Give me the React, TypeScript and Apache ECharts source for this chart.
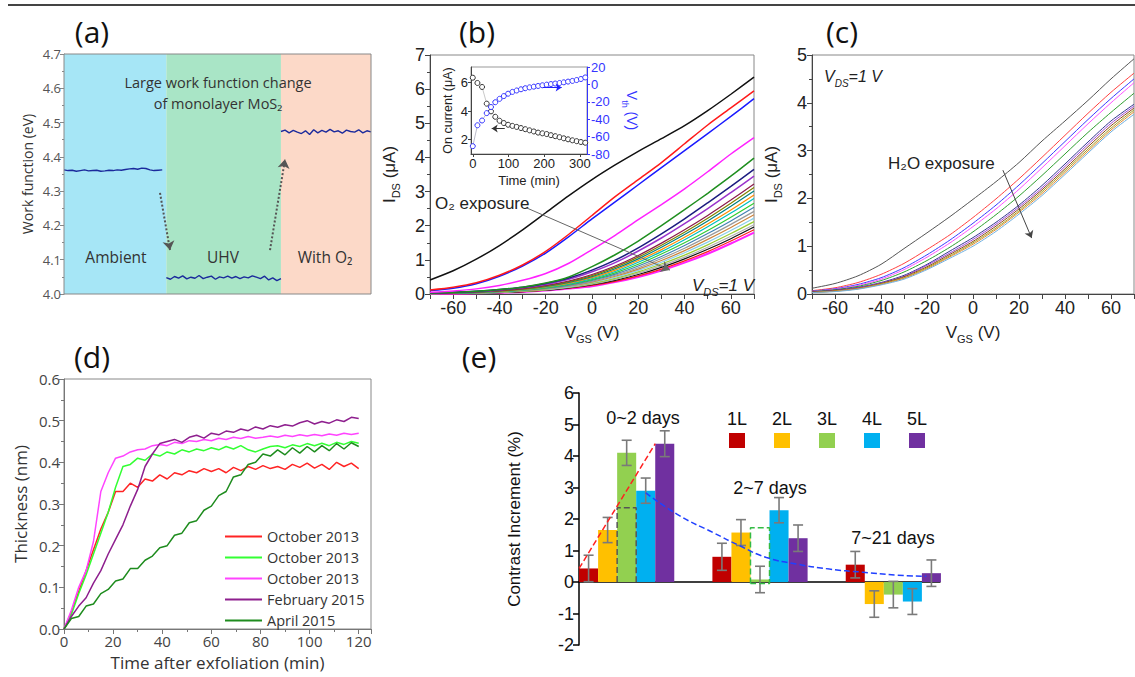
import React, { useEffect, useRef } from "react";
import * as echarts from "echarts";

const SANS = "Liberation Sans, Arial, sans-serif";
const OPEN = "Open Sans, sans-serif";

// ---------------- (a) work function ----------------
const aRegionEdges = [0, 100, 212, 300];
const aRegionColors = ["#a6e6f6", "#a9e5c6", "#fcd9c8"];
const aSampleStep = 4;
const aAmbientStart = 0;
const aAmbient = [4.362, 4.36, 4.361, 4.358, 4.36, 4.362, 4.359, 4.36, 4.361, 4.358, 4.359, 4.361, 4.36, 4.362, 4.361, 4.363, 4.365, 4.366, 4.364, 4.367, 4.366, 4.362, 4.36, 4.361, 4.362];
const aUhvStart = 100;
const aUhv = [4.048, 4.043, 4.051, 4.046, 4.053, 4.044, 4.049, 4.046, 4.054, 4.045, 4.049, 4.052, 4.043, 4.05, 4.047, 4.052, 4.046, 4.051, 4.045, 4.05, 4.047, 4.053, 4.049, 4.045, 4.052, 4.041, 4.047, 4.039, 4.045];
const aO2Start = 212;
const aO2 = [4.474, 4.478, 4.47, 4.477, 4.472, 4.468, 4.476, 4.465, 4.479, 4.47, 4.477, 4.472, 4.48, 4.473, 4.476, 4.469, 4.478, 4.474, 4.472, 4.479, 4.47, 4.476, 4.473];
const aArrowFrom = [[93.8, 4.295], [201.3, 4.128]];
const aArrowTo = [[103.6, 4.128], [216, 4.393]];

// ---------------- (b) O2 exposure ----------------
const bVgs = [-70, -60, -50, -40, -30, -20, -10, 0, 10, 20, 30, 40, 50, 60, 70];
const bBlack = [0.41, 0.68, 1.02, 1.42, 1.88, 2.38, 2.88, 3.35, 3.78, 4.18, 4.55, 4.93, 5.37, 5.85, 6.35];
const bRed = [0.12, 0.2, 0.33, 0.55, 0.85, 1.25, 1.75, 2.3, 2.85, 3.35, 3.85, 4.4, 4.95, 5.45, 5.95];
const bBlue = [0.1, 0.17, 0.3, 0.52, 0.82, 1.2, 1.68, 2.2, 2.7, 3.2, 3.7, 4.2, 4.7, 5.2, 5.72];
const bMagenta = [0.05, 0.09, 0.15, 0.25, 0.4, 0.6, 0.9, 1.3, 1.72, 2.18, 2.62, 3.08, 3.58, 4.1, 4.58];
const bGreen = [0.03, 0.05, 0.08, 0.13, 0.2, 0.32, 0.5, 0.8, 1.15, 1.55, 2.0, 2.47, 2.95, 3.45, 3.98];
const bNavy = [0.03, 0.05, 0.08, 0.13, 0.2, 0.31, 0.47, 0.7, 0.99, 1.35, 1.76, 2.2, 2.67, 3.15, 3.65];
const bPurple = [0.03, 0.05, 0.07, 0.12, 0.18, 0.28, 0.43, 0.65, 0.92, 1.26, 1.64, 2.06, 2.5, 2.97, 3.45];
const bM1 = [0.02, 0.04, 0.06, 0.1, 0.16, 0.25, 0.38, 0.57, 0.82, 1.13, 1.49, 1.88, 2.3, 2.75, 3.22];
const bM2 = [0.02, 0.04, 0.06, 0.09, 0.15, 0.24, 0.36, 0.54, 0.78, 1.08, 1.43, 1.81, 2.22, 2.66, 3.12];
const bM3 = [0.02, 0.03, 0.05, 0.09, 0.14, 0.22, 0.34, 0.51, 0.74, 1.03, 1.37, 1.74, 2.14, 2.57, 3.02];
const bM4 = [0.02, 0.03, 0.05, 0.08, 0.13, 0.21, 0.32, 0.48, 0.7, 0.98, 1.3, 1.66, 2.05, 2.46, 2.9];
const bM5 = [0.02, 0.03, 0.05, 0.08, 0.12, 0.2, 0.3, 0.45, 0.66, 0.93, 1.24, 1.59, 1.97, 2.37, 2.8];
const bM6 = [0.02, 0.03, 0.04, 0.07, 0.11, 0.18, 0.28, 0.42, 0.62, 0.87, 1.17, 1.5, 1.86, 2.25, 2.66];
const bM7 = [0.01, 0.02, 0.04, 0.07, 0.11, 0.17, 0.26, 0.4, 0.58, 0.82, 1.1, 1.42, 1.77, 2.14, 2.54];
const bM8 = [0.01, 0.02, 0.04, 0.06, 0.1, 0.16, 0.24, 0.37, 0.55, 0.77, 1.04, 1.34, 1.68, 2.04, 2.42];
const bM9 = [0.01, 0.02, 0.03, 0.06, 0.09, 0.15, 0.23, 0.35, 0.52, 0.73, 0.98, 1.27, 1.6, 1.95, 2.32];
const bM10 = [0.01, 0.02, 0.03, 0.05, 0.09, 0.14, 0.21, 0.33, 0.49, 0.69, 0.93, 1.21, 1.52, 1.86, 2.22];
const bM11 = [0.01, 0.02, 0.03, 0.05, 0.08, 0.13, 0.2, 0.31, 0.46, 0.65, 0.88, 1.14, 1.44, 1.77, 2.12];
const bM12 = [0.01, 0.02, 0.03, 0.05, 0.08, 0.12, 0.19, 0.29, 0.43, 0.61, 0.83, 1.08, 1.37, 1.69, 2.03];
const bM13 = [0.01, 0.02, 0.03, 0.04, 0.07, 0.11, 0.18, 0.27, 0.4, 0.57, 0.78, 1.03, 1.31, 1.62, 1.96];
const bM14 = [0.01, 0.01, 0.02, 0.04, 0.07, 0.11, 0.17, 0.25, 0.37, 0.53, 0.73, 0.97, 1.24, 1.55, 1.88];
const bM15 = [0.01, 0.01, 0.02, 0.04, 0.06, 0.1, 0.16, 0.23, 0.35, 0.5, 0.69, 0.92, 1.18, 1.48, 1.8];
const bCurves = [bBlack, bRed, bBlue, bMagenta, bGreen, bNavy, bPurple, bM1, bM2, bM3, bM4, bM5, bM6, bM7, bM8, bM9, bM10, bM11, bM12, bM13, bM14, bM15];
const bColors = ["#111111", "#ff1a1a", "#1a1aff", "#ff22ff", "#1f8f1f", "#1c1c80", "#9933cc", "#8b1a4a", "#808000", "#008080", "#ff8c00", "#00bfbf", "#33cc33", "#4682b4", "#9a9a9a", "#cd853f", "#87ceeb", "#9acd32", "#b0b0b0", "#111111", "#ff1a1a", "#ff22ff"];
const bArrow = [[-28.2, 2.52], [33.7, 0.7]];

const bInsetTime = [0, 13, 26, 39, 51, 63, 75, 87, 99, 111, 123, 135, 147, 159, 171, 183, 195, 207, 219, 231, 243, 255, 267, 279, 291, 303, 315];
const bInsetOnCurrent = [6.35, 5.98, 5.7, 4.53, 3.99, 3.61, 3.33, 3.17, 3.05, 2.97, 2.9, 2.82, 2.74, 2.66, 2.58, 2.5, 2.45, 2.4, 2.32, 2.25, 2.18, 2.1, 2.03, 1.96, 1.9, 1.84, 1.79];
const bInsetVth = [-71, -47, -41.5, -33, -26, -20.5, -16.6, -13.4, -10.7, -8.6, -7, -5.6, -4.4, -3.4, -2.6, -1.8, -1.0, -0.3, 0.4, 1.0, 1.6, 2.4, 3.2, 4.0, 5.0, 6.2, 8.0];
const bInsetArrowOn = [[89.6, 2.79], [53, 2.79]];
const bInsetArrowVth = [[196, -3.5], [249, -3.5]];

// ---------------- (c) H2O exposure ----------------
const cVgs = [-70, -60, -50, -40, -30, -20, -10, 0, 10, 20, 30, 40, 50, 60, 70];
const cC1 = [0.12, 0.22, 0.38, 0.62, 0.95, 1.28, 1.62, 1.98, 2.35, 2.75, 3.2, 3.62, 4.05, 4.5, 4.92];
const cC2 = [0.07, 0.13, 0.24, 0.41, 0.64, 0.93, 1.24, 1.6, 1.99, 2.41, 2.86, 3.32, 3.78, 4.22, 4.62];
const cC3 = [0.06, 0.11, 0.2, 0.34, 0.55, 0.82, 1.13, 1.48, 1.86, 2.28, 2.73, 3.19, 3.65, 4.09, 4.5];
const cC4 = [0.05, 0.1, 0.18, 0.31, 0.51, 0.77, 1.07, 1.41, 1.78, 2.19, 2.64, 3.1, 3.56, 4.0, 4.42];
const cC5 = [0.05, 0.09, 0.16, 0.28, 0.46, 0.7, 0.98, 1.3, 1.66, 2.05, 2.48, 2.93, 3.38, 3.8, 4.2];
const cC6 = [0.04, 0.08, 0.14, 0.24, 0.39, 0.62, 0.9, 1.18, 1.5, 1.86, 2.27, 2.72, 3.18, 3.62, 3.97];
const cC7 = [0.04, 0.07, 0.13, 0.23, 0.37, 0.6, 0.86, 1.14, 1.46, 1.82, 2.22, 2.67, 3.13, 3.57, 3.93];
const cC8 = [0.04, 0.07, 0.12, 0.22, 0.36, 0.57, 0.83, 1.1, 1.42, 1.78, 2.18, 2.62, 3.08, 3.52, 3.89];
const cC9 = [0.03, 0.06, 0.11, 0.21, 0.34, 0.55, 0.8, 1.07, 1.38, 1.74, 2.14, 2.58, 3.03, 3.47, 3.85];
const cC10 = [0.03, 0.06, 0.11, 0.2, 0.33, 0.53, 0.78, 1.04, 1.35, 1.71, 2.1, 2.54, 2.99, 3.43, 3.81];
const cC11 = [0.03, 0.05, 0.1, 0.19, 0.31, 0.51, 0.75, 1.0, 1.31, 1.67, 2.06, 2.5, 2.95, 3.39, 3.76];
const cCurves = [cC1, cC2, cC3, cC4, cC5, cC6, cC7, cC8, cC9, cC10, cC11];
const cColors = ["#555555", "#ff4040", "#3a3aff", "#ff50ff", "#2e9e2e", "#34348f", "#9a48d8", "#8b4513", "#a0a020", "#e08a30", "#70b0e0"];
const cArrow = [[13, 2.59], [25.5, 1.17]];

// ---------------- (d) thickness ----------------
const dTimeStep = 3;
const dRed = [0, 0.04, 0.09, 0.14, 0.19, 0.24, 0.28, 0.33, 0.33, 0.35, 0.34, 0.36, 0.355, 0.37, 0.36, 0.375, 0.37, 0.38, 0.375, 0.385, 0.378, 0.385, 0.375, 0.388, 0.38, 0.39, 0.383, 0.392, 0.385, 0.39, 0.383, 0.395, 0.388, 0.398, 0.386, 0.395, 0.383, 0.4, 0.39, 0.398, 0.385];
const dGreen = [0, 0.035, 0.085, 0.13, 0.18, 0.23, 0.28, 0.34, 0.39, 0.395, 0.41, 0.405, 0.42, 0.415, 0.425, 0.42, 0.43, 0.425, 0.432, 0.428, 0.435, 0.43, 0.438, 0.432, 0.44, 0.43, 0.425, 0.432, 0.438, 0.44, 0.435, 0.442, 0.438, 0.445, 0.44, 0.446, 0.44, 0.448, 0.443, 0.45, 0.446];
const dMagenta = [0, 0.045, 0.1, 0.14, 0.21, 0.33, 0.375, 0.41, 0.415, 0.425, 0.43, 0.432, 0.44, 0.443, 0.44, 0.448, 0.445, 0.452, 0.45, 0.455, 0.452, 0.458, 0.455, 0.46, 0.457, 0.462, 0.458, 0.46, 0.463, 0.46, 0.465, 0.462, 0.466, 0.463, 0.467, 0.464, 0.468, 0.465, 0.47, 0.467, 0.47];
const dPurple = [0, 0.03, 0.055, 0.075, 0.11, 0.14, 0.18, 0.215, 0.25, 0.295, 0.335, 0.39, 0.42, 0.445, 0.45, 0.455, 0.448, 0.46, 0.465, 0.458, 0.47, 0.466, 0.475, 0.472, 0.48, 0.476, 0.485, 0.48, 0.488, 0.484, 0.49, 0.487, 0.495, 0.5, 0.492, 0.498, 0.494, 0.502, 0.498, 0.508, 0.505];
const dDarkGreen = [0, 0.025, 0.03, 0.055, 0.06, 0.085, 0.095, 0.115, 0.12, 0.145, 0.145, 0.165, 0.175, 0.195, 0.2, 0.225, 0.23, 0.255, 0.26, 0.285, 0.295, 0.32, 0.33, 0.365, 0.37, 0.395, 0.4, 0.42, 0.415, 0.43, 0.418, 0.435, 0.422, 0.438, 0.425, 0.44, 0.428, 0.445, 0.432, 0.447, 0.438];
const dSeries = [dRed, dGreen, dMagenta, dPurple, dDarkGreen];
const dLegend = ["October 2013", "October 2013", "October 2013", "February 2015", "April 2015"];
const dColors = ["#ff2424", "#33ff33", "#ff44ff", "#8e1f8e", "#1e8c1e"];

// ---------------- (e) contrast increment ----------------
const ePeriods = ["0~2 days", "2~7 days", "7~21 days"];
const eLayers = ["1L", "2L", "3L", "4L", "5L"];
const eColors = ["#c00000", "#ffc000", "#92d050", "#00b0f0", "#7030a0"];
const e1L = [0.43, 0.8, 0.55];
const e2L = [1.65, 1.57, -0.7];
const e3L = [4.1, 0.08, -0.4];
const e4L = [2.9, 2.28, -0.62];
const e5L = [4.39, 1.39, 0.28];
const eValues = [e1L, e2L, e3L, e4L, e5L];
const e1LErr = [0.42, 0.43, 0.42];
const e2LErr = [0.4, 0.41, 0.42];
const e3LErr = [0.4, 0.42, 0.42];
const e4LErr = [0.4, 0.4, 0.41];
const e5LErr = [0.41, 0.42, 0.42];
const eErrors = [e1LErr, e2LErr, e3LErr, e4LErr, e5LErr];
const eTrendX = [0.643, 0.899, 1.148, 1.348, 1.548, 1.773, 2.022, 2.272, 2.522, 2.747];
const eTrendY = [2.83, 2.1, 1.57, 1.15, 0.78, 0.57, 0.41, 0.31, 0.22, 0.18];
const eBox1 = [0, 2.36];
const eBox2 = [-0.05, 1.72];
const E_GAP = 0.286;

function buildOption() {
  const stepPairs = (start: number, step: number, ys: number[]) => ys.map((y, i) => [start + i * step, y]);
  const pairs = (xs: number[], ys: number[]) => ys.map((y, i) => [xs[i], y]);
  const layerLeft = (g: number, i: number) => g + E_GAP / 2 + (i * (1 - E_GAP)) / eLayers.length;

  const subRich = (size: number, color: string, italic = false) => ({
    m: { fontSize: size, lineHeight: 24, fontFamily: SANS, color, fontStyle: italic ? "italic" : "normal" },
    s: { fontSize: Math.round(size * 0.65), lineHeight: 11, verticalAlign: "bottom", fontFamily: SANS, color, fontStyle: italic ? "italic" : "normal" },
  });

  const gridBase = { outerBoundsMode: "none", containLabel: false } as any;
  const grids = [
    { ...gridBase, left: 64, top: 54, width: 307, height: 240 },
    { ...gridBase, left: 430, top: 55, width: 324, height: 239, show: true, borderColor: "#888", borderWidth: 1 },
    { ...gridBase, left: 471, top: 67, width: 116, height: 87, show: true, borderColor: "#999", borderWidth: 1, backgroundColor: "#fff" },
    { ...gridBase, left: 812, top: 55, width: 322, height: 239, show: true, borderColor: "#888", borderWidth: 1 },
    { ...gridBase, left: 64, top: 379, width: 307, height: 250, show: true, borderColor: "#888", borderWidth: 1 },
    { ...gridBase, left: 579, top: 393, width: 361, height: 252 },
    { ...gridBase, left: 560, top: 393, width: 400, height: 252 },
  ];

  const bcAxisLabel = { fontSize: 18, color: "#222", fontFamily: SANS, margin: 5 };
  const darkLine = { show: true, onZero: false, lineStyle: { color: "#444", width: 1 } };
  const outTick = { show: true, length: 5, inside: false, lineStyle: { color: "#444" } };
  const minor = { show: true, splitNumber: 2, length: 3, lineStyle: { color: "#444" } };
  const no = { show: false };

  const xAxes: any[] = [
    { gridIndex: 0, type: "value", min: 0, max: 300, show: false },
    {
      gridIndex: 1, type: "value", min: -70, max: 70, interval: 10,
      axisLine: darkLine, axisTick: outTick, splitLine: no,
      axisLabel: { ...bcAxisLabel, formatter: (v: number) => (v % 20 === 0 ? String(v) : "") },
      name: "{m|V}{s|GS}{m| (V)}", nameLocation: "middle", nameGap: 26, nameMoveOverlap: false,
      nameTextStyle: { rich: subRich(17, "#222") },
    },
    {
      gridIndex: 2, type: "value", min: -5, max: 320,
      axisLine: { show: true, onZero: false, lineStyle: { color: "#444" } },
      axisTick: { show: true, length: 3, customValues: [0, 100, 200, 300], lineStyle: { color: "#444" } },
      axisLabel: { fontSize: 13, color: "#222", fontFamily: SANS, margin: 3, customValues: [0, 100, 200, 300] },
      splitLine: no,
      name: "Time (min)", nameLocation: "middle", nameGap: 20, nameMoveOverlap: false,
      nameTextStyle: { fontSize: 13, color: "#222", fontFamily: SANS },
    },
    {
      gridIndex: 3, type: "value", min: -70, max: 70, interval: 10,
      axisLine: darkLine, axisTick: outTick, splitLine: no,
      axisLabel: { ...bcAxisLabel, formatter: (v: number) => (v % 20 === 0 ? String(v) : "") },
      name: "{m|V}{s|GS}{m| (V)}", nameLocation: "middle", nameGap: 26, nameMoveOverlap: false,
      nameTextStyle: { rich: subRich(17, "#222") },
    },
    {
      gridIndex: 4, type: "value", min: 0, max: 125, interval: 20,
      axisLine: { show: true, onZero: false, lineStyle: { color: "#777" } },
      axisTick: { show: true, length: 5, lineStyle: { color: "#777" } },
      minorTick: { show: true, splitNumber: 2, length: 3, lineStyle: { color: "#777" } },
      splitLine: no,
      axisLabel: { fontSize: 15, color: "#444", fontFamily: OPEN, margin: 4, formatter: (v: number) => (v % 20 === 0 ? String(v) : "") },
      name: "Time after exfoliation (min)", nameLocation: "middle", nameGap: 25, nameMoveOverlap: false,
      nameTextStyle: { fontSize: 17, color: "#333", fontFamily: OPEN },
    },
    {
      gridIndex: 5, type: "value", min: 0, max: 1,
      axisLine: { show: true, onZero: true, lineStyle: { color: "#000", width: 1.5 } },
      axisTick: no, axisLabel: no, splitLine: no,
    },
    { gridIndex: 6, type: "category", data: ePeriods, show: false },
    { gridIndex: 6, type: "value", min: 0, max: 3, show: false },
  ];

  const yAxes: any[] = [
    {
      gridIndex: 0, type: "value", min: 4.0, max: 4.7, interval: 0.1,
      axisLine: { show: true, onZero: false, lineStyle: { color: "#888" } },
      axisTick: { show: true, length: 4, lineStyle: { color: "#888" } },
      minorTick: { show: true, splitNumber: 2, length: 2, lineStyle: { color: "#888" } },
      splitLine: no,
      axisLabel: { fontSize: 13, color: "#555", fontFamily: OPEN, margin: 3, formatter: (v: number) => v.toFixed(1) },
      name: "Work function (eV)", nameLocation: "middle", nameGap: 30, nameMoveOverlap: false,
      nameTextStyle: { fontSize: 14, color: "#333", fontFamily: OPEN },
    },
    {
      gridIndex: 1, type: "value", min: 0, max: 7, interval: 1,
      axisLine: darkLine, axisTick: outTick, minorTick: minor, splitLine: no,
      axisLabel: bcAxisLabel,
      name: "{m|I}{s|DS}{m| (μA)}", nameLocation: "middle", nameGap: 29, nameMoveOverlap: false,
      nameTextStyle: { rich: subRich(17, "#222") },
    },
    {
      gridIndex: 2, type: "value", min: 1, max: 7.1,
      axisLine: { show: true, onZero: false, lineStyle: { color: "#444" } },
      axisTick: { show: true, length: 3, customValues: [2, 4, 6], lineStyle: { color: "#444" } },
      axisLabel: { fontSize: 13, color: "#222", fontFamily: SANS, margin: 3, customValues: [2, 4, 6] },
      splitLine: no,
      name: "On current (μA)", nameLocation: "middle", nameGap: 17, nameMoveOverlap: false,
      nameTextStyle: { fontSize: 12.5, color: "#222", fontFamily: SANS },
    },
    {
      gridIndex: 2, type: "value", position: "right", min: -80, max: 20, interval: 20,
      axisLine: { show: true, onZero: false, lineStyle: { color: "#3535ff" } },
      axisTick: { show: true, length: 3, lineStyle: { color: "#3535ff" } },
      axisLabel: { fontSize: 13, color: "#3535ff", fontFamily: SANS, margin: 4 },
      splitLine: no,
      name: "{m|V}{s|th}{m| (V)}", nameLocation: "middle", nameGap: 33, nameRotate: -90, nameMoveOverlap: false,
      nameTextStyle: { rich: subRich(14, "#3535ff") },
    },
    {
      gridIndex: 3, type: "value", min: 0, max: 5, interval: 1,
      axisLine: darkLine, axisTick: outTick, minorTick: minor, splitLine: no,
      axisLabel: bcAxisLabel,
      name: "{m|I}{s|DS}{m| (μA)}", nameLocation: "middle", nameGap: 29, nameMoveOverlap: false,
      nameTextStyle: { rich: subRich(17, "#222") },
    },
    {
      gridIndex: 4, type: "value", min: 0, max: 0.6, interval: 0.1,
      axisLine: { show: true, onZero: false, lineStyle: { color: "#777" } },
      axisTick: { show: true, length: 5, lineStyle: { color: "#777" } },
      minorTick: { show: true, splitNumber: 2, length: 3, lineStyle: { color: "#777" } },
      splitLine: no,
      axisLabel: { fontSize: 15, color: "#444", fontFamily: OPEN, margin: 4, formatter: (v: number) => v.toFixed(1) },
      name: "Thickness (nm)", nameLocation: "middle", nameGap: 35, nameMoveOverlap: false,
      nameTextStyle: { fontSize: 17, color: "#333", fontFamily: OPEN },
    },
    {
      gridIndex: 5, type: "value", min: -2, max: 6, interval: 1,
      axisLine: { show: true, onZero: false, lineStyle: { color: "#000", width: 1.5 } },
      axisTick: { show: true, length: 6, lineStyle: { color: "#000", width: 1.5 } },
      splitLine: no,
      axisLabel: { fontSize: 18, color: "#111", fontFamily: SANS, margin: 5 },
      name: "Contrast Increment (%)", nameLocation: "middle", nameGap: 56, nameMoveOverlap: false,
      nameTextStyle: { fontSize: 17, color: "#111", fontFamily: SANS },
    },
    { gridIndex: 6, type: "value", min: -2, max: 6, show: false },
  ];

  const series: any[] = [];

  // (a)
  const arrowLine = (from: number[][], to: number[][], color: string, type: string, width: number, size: number) => ({
    silent: true, symbol: ["none", "arrow"], symbolSize: size, label: { show: false },
    lineStyle: { color, type, width }, emphasis: { disabled: true },
    data: from.map((f, i) => [{ coord: f }, { coord: to[i] }]),
  });
  const aLine = { type: "line", xAxisIndex: 0, yAxisIndex: 0, showSymbol: false, lineStyle: { color: "#1b2a9c", width: 1.4 } };
  series.push({
    ...aLine, data: stepPairs(aAmbientStart, aSampleStep, aAmbient),
    markArea: {
      silent: true,
      data: aRegionColors.map((c, i) => [{ xAxis: aRegionEdges[i], itemStyle: { color: c } }, { xAxis: aRegionEdges[i + 1] }]),
    },
    markLine: arrowLine(aArrowFrom, aArrowTo, "#555", "dotted", 2, 9),
  });
  series.push({ ...aLine, data: stepPairs(aUhvStart, aSampleStep, aUhv) });
  series.push({ ...aLine, data: stepPairs(aO2Start, aSampleStep, aO2) });

  // (b)
  bCurves.forEach((arr, i) => {
    series.push({
      type: "line", xAxisIndex: 1, yAxisIndex: 1, showSymbol: false, smooth: 0.25, z: 3 + (bCurves.length - i) * 0.01,
      data: pairs(bVgs, arr),
      lineStyle: { color: bColors[i], width: i < 7 ? 1.5 : i === bCurves.length - 1 ? 2 : 1.2 },
      markLine: i === 0 ? arrowLine([bArrow[0]], [bArrow[1]], "#666", "solid", 1, 9) : undefined,
    });
  });
  series.push({
    type: "line", xAxisIndex: 2, yAxisIndex: 2, data: pairs(bInsetTime, bInsetOnCurrent),
    symbol: "circle", symbolSize: 5, itemStyle: { color: "#fff", borderColor: "#333", borderWidth: 1 },
    lineStyle: { color: "#bbb", width: 0.8 },
    markLine: arrowLine([bInsetArrowOn[0]], [bInsetArrowOn[1]], "#333", "solid", 1, 6),
  });
  series.push({
    type: "line", xAxisIndex: 2, yAxisIndex: 3, data: pairs(bInsetTime, bInsetVth),
    symbol: "circle", symbolSize: 5, itemStyle: { color: "#fff", borderColor: "#3535ff", borderWidth: 1 },
    lineStyle: { color: "#aab", width: 0.8 },
    markLine: arrowLine([bInsetArrowVth[0]], [bInsetArrowVth[1]], "#2020ff", "solid", 1, 6),
  });

  // (c)
  cCurves.forEach((arr, i) => {
    series.push({
      type: "line", xAxisIndex: 3, yAxisIndex: 4, showSymbol: false, smooth: 0.25,
      data: pairs(cVgs, arr), lineStyle: { color: cColors[i], width: 1 },
      markLine: i === 0 ? arrowLine([cArrow[0]], [cArrow[1]], "#444", "solid", 1, 7) : undefined,
    });
  });

  // (d)
  dSeries.forEach((arr, i) => {
    series.push({
      name: "d" + i, type: "line", xAxisIndex: 4, yAxisIndex: 5, showSymbol: false,
      data: stepPairs(0, dTimeStep, arr), lineStyle: { color: dColors[i], width: 1.5 }, itemStyle: { color: dColors[i] },
    });
  });

  // (e)
  eValues.forEach((vals, i) => {
    series.push({
      name: eLayers[i], type: "bar", xAxisIndex: 6, yAxisIndex: 7, data: vals,
      barGap: "0%", barCategoryGap: (E_GAP * 100).toFixed(1) + "%", itemStyle: { color: eColors[i] }, z: 2,
    });
  });
  const errData: number[][] = [];
  eValues.forEach((vals, i) => vals.forEach((v, g) => errData.push([g, v, eErrors[i][g], i])));
  series.push({
    type: "custom", xAxisIndex: 6, yAxisIndex: 7, z: 4, silent: true, encode: { x: 0, y: 1 },
    data: errData,
    renderItem: (params: any, api: any) => {
      const g = api.value(0), v = api.value(1), e = api.value(2), layer = api.value(3);
      const c = api.coord([g, v]);
      const band = api.size([1, 0])[0];
      const bw = (band * (1 - E_GAP)) / eLayers.length;
      const x = c[0] + (layer - (eLayers.length - 1) / 2) * bw;
      const yT = api.coord([g, v + e])[1];
      const yB = api.coord([g, v - e])[1];
      const cap = 5;
      const st = { stroke: "#7a7a7a", lineWidth: 1.6 };
      return {
        type: "group",
        children: [
          { type: "line", shape: { x1: x, y1: yT, x2: x, y2: yB }, style: st },
          { type: "line", shape: { x1: x - cap, y1: yT, x2: x + cap, y2: yT }, style: st },
          { type: "line", shape: { x1: x - cap, y1: yB, x2: x + cap, y2: yB }, style: st },
        ],
      };
    },
  });
  const b1x0 = layerLeft(0, 2), b1x1 = layerLeft(0, 3);
  series.push({
    type: "line", xAxisIndex: 7, yAxisIndex: 7, showSymbol: false, z: 5, silent: true,
    data: [[b1x0, eBox1[0]], [b1x0, eBox1[1]], [b1x1, eBox1[1]], [b1x1, eBox1[0]]],
    lineStyle: { color: "#555", type: "dashed", width: 1.5 },
  });
  const b2x0 = layerLeft(1, 2), b2x1 = layerLeft(1, 3);
  series.push({
    type: "line", xAxisIndex: 7, yAxisIndex: 7, showSymbol: false, z: 5, silent: true,
    data: [[b2x0, eBox2[0]], [b2x0, eBox2[1]], [b2x1, eBox2[1]], [b2x1, eBox2[0]], [b2x0, eBox2[0]]],
    lineStyle: { color: "#33bb44", type: "dashed", width: 1.5 },
  });
  series.push({
    type: "line", xAxisIndex: 7, yAxisIndex: 7, showSymbol: false, z: 6, silent: true,
    data: [[layerLeft(0, 0), e1L[0]], [layerLeft(0, 4), e5L[0]]],
    lineStyle: { color: "#ff2020", type: "dashed", width: 1.5 },
  });
  series.push({
    type: "line", xAxisIndex: 7, yAxisIndex: 7, showSymbol: false, z: 6, silent: true, smooth: true,
    data: pairs(eTrendX, eTrendY),
    lineStyle: { color: "#2040ff", type: "dashed", width: 1.5 },
  });

  // graphics
  const txt = (text: string, x: number, y: number, size: number, family: string, extra: any = {}) => ({
    type: "text", x, y, z: 50, silent: true,
    style: { text, fontSize: size, fontFamily: family, fill: "#222", align: "center", verticalAlign: "middle", textAlign: "center", textVerticalAlign: "middle", ...extra },
  });
  const graphic: any[] = [
    { type: "line", shape: { x1: 8, y1: 5, x2: 1135, y2: 5 }, style: { stroke: "#444", lineWidth: 2 }, silent: true },
    txt("(a)", 92, 31, 30, OPEN, { fill: "#111" }),
    txt("(b)", 477, 31, 30, OPEN, { fill: "#111" }),
    txt("(c)", 842, 31, 30, OPEN, { fill: "#111" }),
    txt("(d)", 92, 356, 30, OPEN, { fill: "#111" }),
    txt("(e)", 479, 356, 30, OPEN, { fill: "#111" }),
    { type: "rect", shape: { x: 64, y: 54, width: 307, height: 240 }, style: { fill: "none", stroke: "#888", lineWidth: 1 }, z: 40, silent: true },
    txt("Large work function change", 218, 82, 14.5, OPEN, { fill: "#333" }),
    txt("of monolayer MoS₂", 218, 103, 14.5, OPEN, { fill: "#333" }),
    txt("Ambient", 116, 257, 15.5, OPEN, { fill: "#333" }),
    txt("UHV", 223, 257, 15.5, OPEN, { fill: "#333" }),
    txt("With O₂", 325, 257, 15.5, OPEN, { fill: "#333" }),
    txt("O₂ exposure", 435, 203, 17, SANS, { align: "left", textAlign: "left" }),
    txt("{m|V}{s|DS}{m|=1 V}", 692, 285, 17, SANS, { align: "left", textAlign: "left", rich: subRich(17, "#222", true) }),
    txt("{m|V}{s|DS}{m|=1 V}", 824, 76, 16, SANS, { align: "left", textAlign: "left", rich: subRich(16, "#222", true) }),
    txt("H₂O exposure", 888, 163, 17, SANS, { align: "left", textAlign: "left" }),
    txt(ePeriods[0], 643, 418, 18, SANS, { fill: "#111" }),
    txt(ePeriods[1], 770, 488, 18, SANS, { fill: "#111" }),
    txt(ePeriods[2], 893, 538, 18, SANS, { fill: "#111" }),
  ];
  eLayers.forEach((l, i) => {
    const cx = 737 + i * 45;
    graphic.push(txt(l, cx, 419, 18, SANS, { fill: "#111" }));
    graphic.push({ type: "rect", shape: { x: cx - 8, y: 433, width: 16, height: 15 }, style: { fill: eColors[i] }, z: 50, silent: true });
  });

  return {
    animation: false,
    backgroundColor: "#fff",
    grid: grids,
    xAxis: xAxes,
    yAxis: yAxes,
    legend: {
      data: dSeries.map((_, i) => "d" + i),
      left: 220, top: 524, orient: "vertical", itemWidth: 37, itemHeight: 2, itemGap: 6, icon: "rect",
      selectedMode: false,
      formatter: (name: string) => dLegend[Number(name.slice(1))],
      textStyle: { fontSize: 14.5, fontFamily: OPEN, color: "#333", lineHeight: 14 },
    },
    series,
    graphic,
  };
}

export default function App() {
  const ref = useRef<HTMLDivElement>(null);
  useEffect(() => {
    const chart = echarts.init(ref.current as HTMLDivElement, null, { renderer: "svg" });
    chart.setOption(buildOption() as any);
    return () => chart.dispose();
  }, []);
  return (
    <div
      ref={ref}
      style={{ position: "fixed", left: 0, top: 0, width: 1135, height: 677, background: "#fff" }}
    />
  );
}
